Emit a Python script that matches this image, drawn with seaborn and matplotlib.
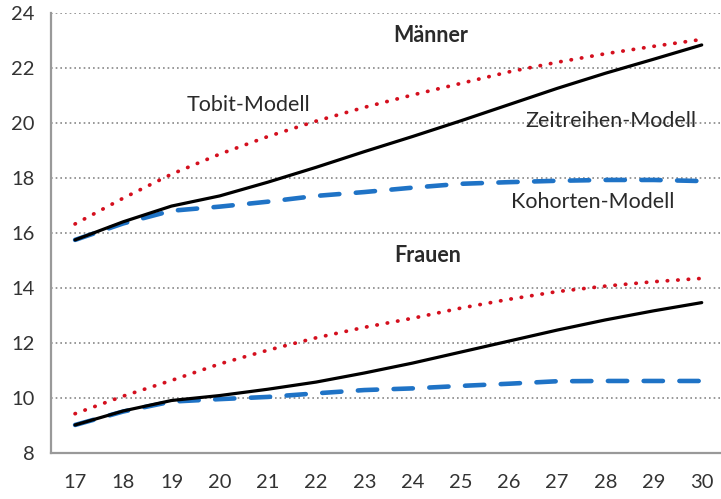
import matplotlib
matplotlib.use("Agg")
import matplotlib.pyplot as plt
import seaborn as sns
import pandas as pd

ages = [17, 18, 19, 20, 21, 22, 23, 24, 25, 26, 27, 28, 29, 30]

m_zeitreihen = [15.76, 16.42, 16.99, 17.36, 17.86, 18.40, 18.97, 19.52, 20.09, 20.68, 21.27, 21.82, 22.33, 22.85]
m_tobit      = [16.34, 17.28, 18.15, 18.88, 19.52, 20.08, 20.58, 21.03, 21.45, 21.87, 22.22, 22.53, 22.80, 23.05]
m_kohorten   = [15.76, 16.36, 16.82, 16.97, 17.15, 17.36, 17.50, 17.66, 17.80, 17.86, 17.91, 17.94, 17.94, 17.90]

f_zeitreihen = [9.03, 9.54, 9.92, 10.10, 10.33, 10.59, 10.92, 11.28, 11.68, 12.08, 12.48, 12.85, 13.18, 13.48]
f_tobit      = [9.44, 10.08, 10.65, 11.25, 11.75, 12.20, 12.58, 12.91, 13.28, 13.60, 13.88, 14.08, 14.24, 14.36]
f_kohorten   = [9.03, 9.52, 9.88, 9.97, 10.05, 10.18, 10.30, 10.36, 10.45, 10.53, 10.62, 10.63, 10.63, 10.63]

annotations = [
    ("Männer", 24.38, 23.21, True),
    ("Frauen", 24.31, 15.21, True),
    ("Tobit-Modell", 20.6, 20.66, False),
    ("Zeitreihen-Modell", 28.11, 20.08, False),
    ("Kohorten-Modell", 27.74, 17.14, False),
]
yticks = [8, 10, 12, 14, 16, 18, 20, 22, 24]

sns.set_style("white")
plt.rcParams['font.family'] = ['Lato', 'DejaVu Sans']

fig = plt.figure(figsize=(7.21, 4.99), dpi=100)
ax = fig.add_axes([0.0707, 0.0916, 0.936, 0.8817])

series = [
    (m_tobit, "#d40f1e", "tobit"),
    (f_tobit, "#d40f1e", "tobit"),
    (m_kohorten, "#1f73c6", "kohorten"),
    (f_kohorten, "#1f73c6", "kohorten"),
    (m_zeitreihen, "#000000", "zeit"),
    (f_zeitreihen, "#000000", "zeit"),
]
for vals, col, kind in series:
    df = pd.DataFrame({"age": ages, "val": vals})
    if kind == "tobit":
        sns.lineplot(data=df, x="age", y="val", ax=ax, color=col, lw=2.7)
        ln = ax.lines[-1]
        ln.set_linestyle((0, (0.1, 2.7)))
        ln.set_dash_capstyle("round")
    elif kind == "kohorten":
        sns.lineplot(data=df, x="age", y="val", ax=ax, color=col, lw=3.3)
        ln = ax.lines[-1]
        ln.set_linestyle((0, (4.2, 3.6)))
        ln.set_dash_capstyle("round")
    else:
        sns.lineplot(data=df, x="age", y="val", ax=ax, color=col, lw=2.3)

ax.set_xlim(16.5, 30.5)
ax.set_ylim(8, 24)
ax.set_yticks(yticks)
ax.set_yticklabels([str(t) for t in yticks], fontsize=14.5, color="#333333")
ax.set_xticks(ages)
ax.set_xticklabels([str(a) for a in ages], fontsize=14.5, color="#333333")
ax.set_xticks([a + 0.5 for a in [16] + ages], minor=True)
ax.tick_params(axis="x", which="major", length=0, pad=15)
ax.tick_params(axis="x", which="minor", length=6, width=1.3, color="#999999", direction="out")
ax.tick_params(axis="y", length=6, width=1.3, color="#999999", direction="out", pad=6)
ax.set_xlabel("")
ax.set_ylabel("")

for t in yticks[1:]:
    ax.axhline(t, color="#888888", lw=1.2, ls=(0, (1, 1.8)), zorder=0)

for s in ["top", "right"]:
    ax.spines[s].set_visible(False)
for s in ["left", "bottom"]:
    ax.spines[s].set_color("#999999")
    ax.spines[s].set_linewidth(1.6)

for txt, x, y, bold in annotations:
    ax.text(x, y, txt, ha="center", va="center", fontsize=15.5,
            fontweight="bold" if bold else "normal", color="#2a2a2a")

fig.savefig("out.png", dpi=100)
